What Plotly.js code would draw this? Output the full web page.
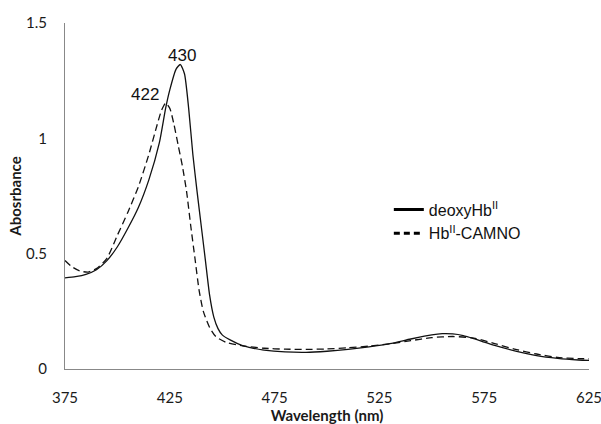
<!DOCTYPE html>
<html>
<head>
<meta charset="utf-8">
<script src="https://cdn.plot.ly/plotly-3.0.1.min.js"></script>
<style>html,body{margin:0;padding:0;background:#fff;}#chart{width:601px;height:424px;}</style>
</head>
<body>
<div id="chart"></div>
<script>
// deoxyHb(II) spectrum
const deoxyWl = [375,380,385,390,395,400,405,410,415,420,423,425,428,430,432,434,436,438,440,442,444,446,448,450,454,460,465,470,480,490,500,510,520,530,540,550,555,560,565,570,575,580,590,600,610,620,625];
const deoxyAbs = [0.395,0.40,0.41,0.43,0.47,0.53,0.61,0.70,0.82,0.98,1.13,1.21,1.30,1.32,1.28,1.13,0.93,0.77,0.62,0.47,0.32,0.225,0.175,0.148,0.125,0.10,0.09,0.082,0.074,0.072,0.077,0.085,0.096,0.11,0.13,0.148,0.153,0.152,0.145,0.132,0.117,0.102,0.078,0.058,0.046,0.039,0.037];
// Hb(II)-CAMNO spectrum
const camnoWl = [375,378,382,386,390,395,400,405,410,415,419,421,423,425,427,429,431,433,435,437,439,441,444,447,452,460,470,480,490,500,510,520,530,540,550,560,570,580,590,600,610,620,625];
const camnoAbs = [0.47,0.445,0.425,0.42,0.435,0.48,0.58,0.68,0.79,0.93,1.06,1.12,1.153,1.13,1.06,0.97,0.88,0.77,0.62,0.48,0.34,0.25,0.18,0.14,0.115,0.10,0.09,0.086,0.085,0.087,0.092,0.099,0.109,0.123,0.136,0.141,0.134,0.11,0.085,0.065,0.05,0.045,0.044];
const seriesNames = ['deoxyHb<sup>II</sup>', 'Hb<sup>II</sup>-CAMNO'];
const xTicks = [375,425,475,525,575,625];
const yTicks = [0,0.5,1,1.5];
const yTickText = ['0','0.5','1','1.5'];
const peakLabels = ['430','422'];
const peakX = [431,413];
const peakY = [1.36,1.19];

const tickFont = {family:'Lato, "Open Sans", sans-serif', size:15, color:'#1a1a1a'};
const traces = [
  {x:deoxyWl, y:deoxyAbs, mode:'lines', line:{color:'#111', width:1.3, shape:'spline', smoothing:0.6}, showlegend:false, hoverinfo:'skip'},
  {x:camnoWl, y:camnoAbs, mode:'lines', line:{color:'#111', width:1.3, dash:'7px,4px', shape:'spline', smoothing:0.6}, showlegend:false, hoverinfo:'skip'},
  {x:[null], y:[null], mode:'lines', name:seriesNames[0], line:{color:'#000', width:3}},
  {x:[null], y:[null], mode:'lines', name:seriesNames[1], line:{color:'#000', width:3, dash:'6px,4px'}}
];
const layout = {
  width:601, height:424,
  margin:{l:65, r:12, t:23, b:55},
  paper_bgcolor:'#fff', plot_bgcolor:'#fff',
  showlegend:true,
  legend:{x:0.618, y:0.51, xanchor:'left', yanchor:'top', bgcolor:'rgba(0,0,0,0)', font:{family:'"Liberation Sans", Arial, sans-serif', size:16, color:'#111'}, tracegroupgap:0},
  xaxis:{range:[375,625], tickvals:xTicks, ticktext:xTicks.map(String), showgrid:false, zeroline:false, showline:true, linecolor:'#888', linewidth:1, ticks:'', tickfont:tickFont, ticklabelstandoff:15, ticklabeloverflow:'allow',
    title:{text:'<b>Wavelength (nm)</b>', font:{family:'Lato, "Open Sans", sans-serif', size:15, color:'#1a1a1a'}, standoff:6}},
  yaxis:{range:[0,1.5], tickvals:yTicks, ticktext:yTickText, showgrid:false, zeroline:false, showline:true, linecolor:'#888', linewidth:1, ticks:'', tickfont:tickFont, ticklabelstandoff:14, ticklabeloverflow:'allow',
    title:{text:'<b>Abosrbance</b>', font:{family:'Lato, "Open Sans", sans-serif', size:15, color:'#1a1a1a'}, standoff:0}},
  annotations: peakLabels.map((t,i)=>({x:peakX[i], y:peakY[i], text:t, showarrow:false, font:{family:'"Liberation Sans", Arial, sans-serif', size:17, color:'#111'}}))
};
Plotly.newPlot('chart', traces, layout, {staticPlot:true, displayModeBar:false});
</script>
</body>
</html>
